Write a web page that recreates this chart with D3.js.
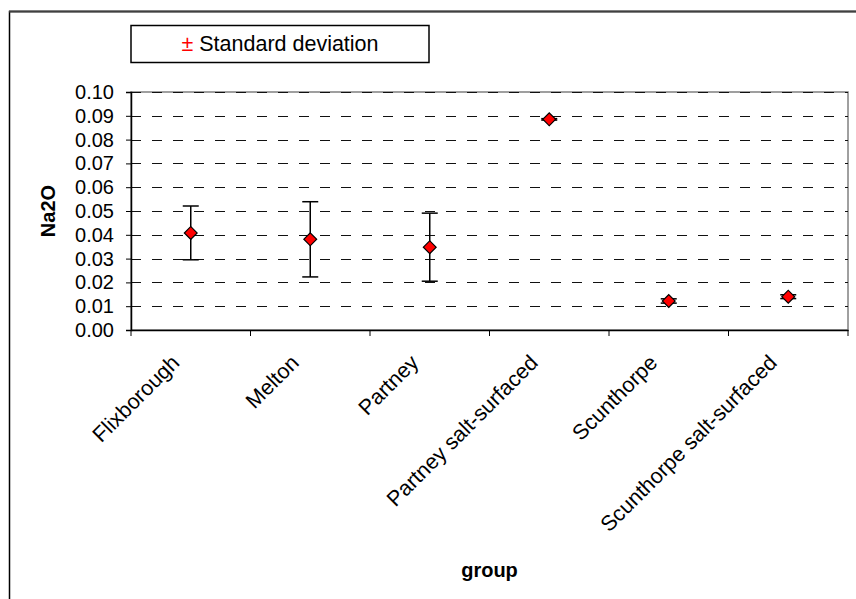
<!DOCTYPE html>
<html>
<head>
<meta charset="utf-8">
<script src="https://cdn.jsdelivr.net/npm/d3@7"></script>
<style>
body{margin:0;background:#fff;}
text{font-family:"Liberation Sans",Arial,sans-serif;}
</style>
</head>
<body>
<script>
var groups=["Flixborough","Melton","Partney","Partney salt-surfaced","Scunthorpe","Scunthorpe salt-surfaced"];
var means=[0.0408,0.0381,0.0348,0.0885,0.0122,0.0140];
var sds=[0.0113,0.0158,0.0143,0.0003,0.0009,0.0008];
var yTicks=[0,0.01,0.02,0.03,0.04,0.05,0.06,0.07,0.08,0.09,0.10];

var data=groups.map(function(g,i){
  return {group:g,mean:means[i],sd:sds[i]};
});

var width=856, height=599;
var plotLeft=131, plotRight=848, plotTop=92, plotBottom=330;

var svg=d3.select("body").append("svg")
          .attr("width",width)
          .attr("height",height);

// chart border (cropped at right/bottom)
svg.append("rect")
   .attr("x",9.5).attr("y",11.5)
   .attr("width",900).attr("height",700)
   .attr("fill","#fff")
   .attr("stroke","#000")
   .attr("stroke-width",1.5);
svg.append("line")
   .attr("x1",9).attr("x2",856).attr("y1",11.5).attr("y2",11.5)
   .attr("stroke","#404040").attr("stroke-width",2);

var x=d3.scaleBand().domain(groups).range([plotLeft,plotRight]);
var y=d3.scaleLinear().domain([0,0.10]).range([plotBottom,plotTop]);

// plot area border
svg.append("rect")
   .attr("x",plotLeft).attr("y",plotTop)
   .attr("width",plotRight-plotLeft).attr("height",plotBottom-plotTop)
   .attr("fill","none")
   .attr("stroke","#808080")
   .attr("stroke-width",1.5);

// gridlines
svg.append("g")
   .selectAll("line")
   .data(yTicks.filter(function(d){return d>0;}))
   .enter()
   .append("line")
   .attr("x1",plotLeft).attr("x2",plotRight)
   .attr("y1",function(d){return Math.round(y(d))+0.5;})
   .attr("y2",function(d){return Math.round(y(d))+0.5;})
   .attr("stroke","#111")
   .attr("stroke-width",1.2)
   .attr("stroke-dasharray","10,11");

// y axis
var yAxis=svg.append("g")
   .attr("transform","translate("+plotLeft+",0)")
   .call(d3.axisLeft(y).tickValues(yTicks).tickFormat(d3.format(".2f")).tickSize(5).tickPadding(12));
yAxis.select(".domain").attr("stroke","#000").attr("stroke-width",1.5);
yAxis.selectAll(".tick line").attr("stroke","#000");
yAxis.selectAll("text").attr("font-size",20).attr("fill","#000")
     .attr("font-family","Liberation Sans, Arial, sans-serif");

// x axis
var xAxis=svg.append("g")
   .attr("transform","translate(0,"+plotBottom+")")
   .call(d3.axisBottom(x).tickSize(0).tickFormat(""));
xAxis.select(".domain").attr("stroke","#000").attr("stroke-width",1.5);

// ticks at category boundaries
var bounds=groups.map(function(g){return x(g);}).concat([plotRight]);
svg.append("g")
   .selectAll("line")
   .data(bounds)
   .enter()
   .append("line")
   .attr("x1",function(d){return d;}).attr("x2",function(d){return d;})
   .attr("y1",plotBottom).attr("y2",plotBottom+6)
   .attr("stroke","#000").attr("stroke-width",1);

// category labels
svg.append("g")
   .selectAll("text")
   .data(groups)
   .enter()
   .append("text")
   .text(function(d){return d;})
   .attr("transform",function(d){
     return "translate("+(x(d)+x.bandwidth()/2-10)+",364) rotate(-45)";
   })
   .attr("text-anchor","end")
   .attr("font-size",21.5)
   .attr("fill","#000");

// error bars
var cap=8;
var bars=svg.append("g").selectAll("g")
   .data(data)
   .enter()
   .append("g")
   .attr("stroke","#000")
   .attr("stroke-width",1.5);
bars.append("line")
   .attr("x1",function(d){return x(d.group)+x.bandwidth()/2;})
   .attr("x2",function(d){return x(d.group)+x.bandwidth()/2;})
   .attr("y1",function(d){return y(d.mean+d.sd);})
   .attr("y2",function(d){return y(d.mean-d.sd);});
bars.append("line")
   .attr("x1",function(d){return x(d.group)+x.bandwidth()/2-cap;})
   .attr("x2",function(d){return x(d.group)+x.bandwidth()/2+cap;})
   .attr("y1",function(d){return y(d.mean+d.sd);})
   .attr("y2",function(d){return y(d.mean+d.sd);});
bars.append("line")
   .attr("x1",function(d){return x(d.group)+x.bandwidth()/2-cap;})
   .attr("x2",function(d){return x(d.group)+x.bandwidth()/2+cap;})
   .attr("y1",function(d){return y(d.mean-d.sd);})
   .attr("y2",function(d){return y(d.mean-d.sd);});

// diamond markers
svg.append("g").selectAll("path")
   .data(data)
   .enter()
   .append("path")
   .attr("d",d3.symbol(d3.symbolSquare,82))
   .attr("transform",function(d){
     return "translate("+(x(d.group)+x.bandwidth()/2)+","+y(d.mean)+") rotate(45)";
   })
   .attr("fill","#ff0000")
   .attr("stroke","#000")
   .attr("stroke-width",1.2);

// axis titles
svg.append("text")
   .text("Na2O")
   .attr("transform","translate(55,"+((plotTop+plotBottom)/2)+") rotate(-90)")
   .attr("text-anchor","middle")
   .attr("font-size",20)
   .attr("font-weight","bold")
   .attr("fill","#000");
svg.append("text")
   .text("group")
   .attr("x",(plotLeft+plotRight)/2)
   .attr("y",577)
   .attr("text-anchor","middle")
   .attr("font-size",20)
   .attr("font-weight","bold")
   .attr("fill","#000");

// legend
svg.append("rect")
   .attr("x",131).attr("y",25.5)
   .attr("width",298).attr("height",37)
   .attr("fill","#fff")
   .attr("stroke","#000")
   .attr("stroke-width",1.5);
var lt=svg.append("text")
   .attr("x",280).attr("y",51)
   .attr("text-anchor","middle")
   .attr("font-size",21.5);
lt.append("tspan").attr("fill","#ff0000").text("±");
lt.append("tspan").attr("fill","#000").text(" Standard deviation");
</script>
</body>
</html>
